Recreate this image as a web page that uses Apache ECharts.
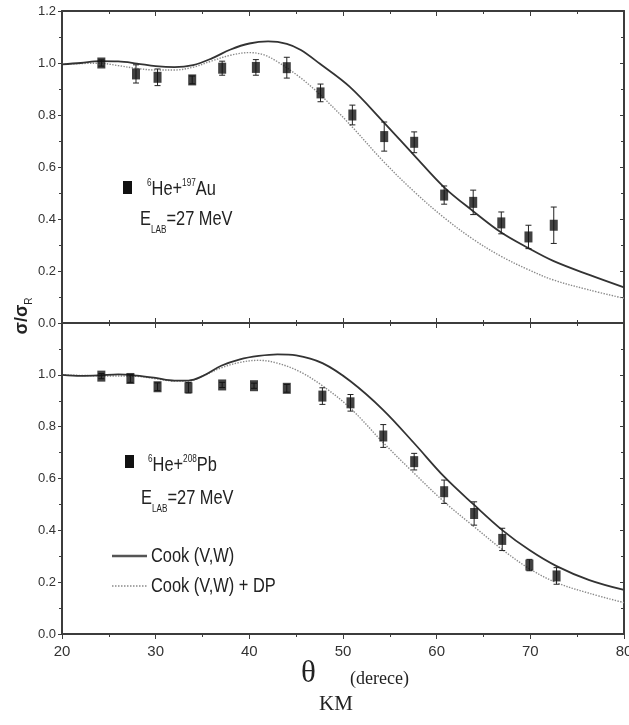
<!DOCTYPE html>
<html>
<head>
<meta charset="utf-8">
<script src="https://cdn.jsdelivr.net/npm/echarts/dist/echarts.min.js"></script>
<style>
  html, body { margin: 0; background: #fff; }
  #chart { width: 629px; height: 725px; }
</style>
</head>
<body>
<div id="chart"></div>
<script>
// measured points, 6He + 197Au (top panel)
var auX = [24.2, 27.9, 30.2, 33.9, 37.1, 40.7, 44.0, 47.6, 51.0, 54.4, 57.6, 60.8, 63.9, 66.9, 69.8, 72.5];
var auY = [1.00, 0.958, 0.945, 0.935, 0.98, 0.983, 0.982, 0.885, 0.80, 0.717, 0.695, 0.492, 0.464, 0.385, 0.331, 0.376];
var auErr = [0.012, 0.035, 0.032, 0.015, 0.027, 0.03, 0.04, 0.034, 0.038, 0.056, 0.04, 0.035, 0.047, 0.042, 0.045, 0.07];

// measured points, 6He + 208Pb (bottom panel)
var pbX = [24.2, 27.3, 30.2, 33.5, 37.1, 40.5, 44.0, 47.8, 50.8, 54.3, 57.6, 60.8, 64.0, 67.0, 69.9, 72.8];
var pbY = [0.995, 0.986, 0.954, 0.950, 0.961, 0.958, 0.948, 0.918, 0.892, 0.764, 0.665, 0.549, 0.465, 0.365, 0.266, 0.224];
var pbErr = [0.01, 0.015, 0.015, 0.02, 0.01, 0.01, 0.015, 0.032, 0.032, 0.044, 0.032, 0.045, 0.045, 0.043, 0.022, 0.032];

// calculated curves [angle, ratio]
var auCook = [[20,0.995],[22,1.0],[24,1.007],[26,1.006],[28,0.998],[30,0.988],[32,0.984],[34,0.992],[36,1.018],[38,1.052],[40,1.075],[42,1.083],[44,1.074],[45.5,1.05],[47.5,0.998],[50.7,0.909],[54.3,0.774],[57.6,0.645],[60.8,0.522],[63.9,0.43],[66.9,0.348],[69.8,0.288],[72.5,0.238],[76.3,0.185],[80,0.137]];
var auCookDP = [[20,0.995],[22,0.998],[24,0.999],[26,0.99],[28,0.979],[30,0.973],[32,0.973],[34,0.984],[36,1.008],[38,1.03],[40,1.04],[41.5,1.032],[43,1.005],[45.4,0.945],[47.5,0.88],[50.7,0.765],[54.3,0.622],[57.6,0.505],[60.8,0.405],[63.9,0.322],[66.9,0.256],[69.8,0.205],[72.5,0.165],[76.3,0.127],[80,0.095]];
var pbCook = [[20,1.0],[22,0.996],[24,0.998],[26,1.002],[28,0.997],[30,0.988],[32,0.978],[33.5,0.978],[35,0.995],[37,1.035],[39,1.06],[41,1.073],[43,1.079],[45,1.075],[47.8,1.045],[50.8,0.975],[54.3,0.864],[57.6,0.736],[60.8,0.607],[64.0,0.498],[67.0,0.401],[69.9,0.324],[72.8,0.262],[76.3,0.208],[80,0.17]];
var pbCookDP = [[20,1.0],[24,0.996],[28,0.994],[30,0.985],[32,0.976],[33.5,0.976],[35,0.995],[37,1.027],[39,1.048],[41,1.056],[43,1.045],[45.4,1.012],[47.8,0.958],[50.8,0.871],[54.3,0.738],[57.6,0.62],[60.8,0.51],[64.0,0.414],[67.0,0.326],[69.9,0.252],[72.8,0.198],[76.3,0.157],[80,0.121]];

var sans = "'Liberation Sans', Arial, sans-serif";
var axisColor = '#3c3c3c';
var textColor = '#222';

var chart = echarts.init(document.getElementById('chart'));

function xAxes(grid) {
  var base = {
    gridIndex: grid, type: 'value', min: 20, max: 80, interval: 10,
    axisLine: { show: true, onZero: false, lineStyle: { color: axisColor, width: 2 } },
    minorTick: { show: true, splitNumber: 2, length: 3, lineStyle: { color: axisColor } },
    splitLine: { show: false }
  };
  var bottom = Object.assign({}, base, {
    position: 'bottom',
    axisTick: { inside: grid === 0, length: 5, lineStyle: { color: axisColor } },
    axisLabel: { show: grid === 1, fontFamily: sans, fontSize: 15, color: '#333', margin: 10 }
  });
  var top = Object.assign({}, base, {
    position: 'top',
    axisTick: { inside: true, length: 5, lineStyle: { color: axisColor } },
    axisLabel: { show: false }
  });
  return [bottom, top];
}

function yAxes(grid) {
  var base = {
    gridIndex: grid, type: 'value', min: 0, max: 1.2, interval: 0.2,
    axisLine: { show: true, onZero: false, lineStyle: { color: axisColor, width: 2 } },
    minorTick: { show: true, splitNumber: 2, length: 3, lineStyle: { color: axisColor } },
    splitLine: { show: false }
  };
  var left = Object.assign({}, base, {
    position: 'left',
    axisTick: { inside: false, length: 4, lineStyle: { color: axisColor } },
    axisLabel: {
      fontFamily: sans, fontSize: 13, color: '#333', margin: 6,
      formatter: function (v) {
        if (grid === 1 && v > 1.1) return '';
        return v.toFixed(1);
      }
    }
  });
  var right = Object.assign({}, base, {
    position: 'right',
    axisTick: { inside: true, length: 4, lineStyle: { color: axisColor } },
    axisLabel: { show: false }
  });
  return [left, right];
}

function errorBarItem(params, api) {
  var lo = api.coord([api.value(0), api.value(1)]);
  var hi = api.coord([api.value(0), api.value(2)]);
  var w = 3;
  var st = { stroke: '#222', lineWidth: 1 };
  return {
    type: 'group',
    children: [
      { type: 'line', shape: { x1: lo[0], y1: lo[1], x2: hi[0], y2: hi[1] }, style: st },
      { type: 'line', shape: { x1: lo[0] - w, y1: lo[1], x2: lo[0] + w, y2: lo[1] }, style: st },
      { type: 'line', shape: { x1: hi[0] - w, y1: hi[1], x2: hi[0] + w, y2: hi[1] }, style: st }
    ]
  };
}

function errData(xs, ys, es) {
  return xs.map(function (x, i) { return [x, ys[i] - es[i], ys[i] + es[i]]; });
}
function pts(xs, ys) {
  return xs.map(function (x, i) { return [x, ys[i]]; });
}

var solidStyle = { color: '#333', width: 1.8, type: 'solid' };
var dotStyle = { color: '#8a8a8a', width: 1.4, type: 'dotted' };

function panelSeries(grid, cook, cookDP, xs, ys, es) {
  var xi = grid * 2, yi = grid * 2;
  return [
    { name: 'Cook (V,W)', type: 'line', xAxisIndex: xi, yAxisIndex: yi, data: cook,
      smooth: 0.35, symbol: 'none', lineStyle: solidStyle, z: 3 },
    { name: 'Cook (V,W) + DP', type: 'line', xAxisIndex: xi, yAxisIndex: yi, data: cookDP,
      smooth: 0.35, symbol: 'none', lineStyle: dotStyle, z: 2 },
    { type: 'custom', xAxisIndex: xi, yAxisIndex: yi, data: errData(xs, ys, es),
      encode: { x: 0, y: [1, 2] }, renderItem: errorBarItem, z: 4 },
    { type: 'scatter', xAxisIndex: xi, yAxisIndex: yi, data: pts(xs, ys),
      symbol: 'rect', symbolSize: [8, 11], itemStyle: { color: '#111' }, z: 5 }
  ];
}

function narrowText(x, y, text, rich) {
  return {
    type: 'text', x: x, y: y, scaleX: 0.82,
    style: { text: text, verticalAlign: 'top', rich: rich }
  };
}

var nameRich = {
  m: { fontFamily: sans, fontSize: 20, lineHeight: 22, fill: textColor },
  s: { fontFamily: sans, fontSize: 10, lineHeight: 22, verticalAlign: 'top', fill: textColor }
};
var energyRich = {
  m: { fontFamily: sans, fontSize: 20, lineHeight: 32, fill: textColor },
  b: { fontFamily: sans, fontSize: 10, lineHeight: 12, verticalAlign: 'bottom', fill: textColor }
};
var legendRich = {
  m: { fontFamily: sans, fontSize: 20, lineHeight: 22, fill: textColor }
};

var option = {
  animation: false,
  grid: [
    { left: 62, top: 11, width: 562, height: 312, containLabel: false, outerBoundsMode: 'none' },
    { left: 62, top: 323, width: 562, height: 311, containLabel: false, outerBoundsMode: 'none' }
  ],
  xAxis: xAxes(0).concat(xAxes(1)),
  yAxis: yAxes(0).concat(yAxes(1)),
  series: panelSeries(0, auCook, auCookDP, auX, auY, auErr)
    .concat(panelSeries(1, pbCook, pbCookDP, pbX, pbY, pbErr)),
  graphic: [
    // top panel data label
    { type: 'rect', shape: { x: 123, y: 181, width: 9, height: 13 }, style: { fill: '#111' } },
    narrowText(147, 178, '{s|6}{m|He+}{s|197}{m|Au}', nameRich),
    narrowText(140, 203, '{m|E}{b|LAB}{m|=27 MeV}', energyRich),
    // bottom panel data label
    { type: 'rect', shape: { x: 125, y: 455, width: 9, height: 13 }, style: { fill: '#111' } },
    narrowText(148, 454, '{s|6}{m|He+}{s|208}{m|Pb}', nameRich),
    narrowText(141, 482, '{m|E}{b|LAB}{m|=27 MeV}', energyRich),
    // curve legend
    { type: 'line', shape: { x1: 112, y1: 556, x2: 147, y2: 556 }, style: { stroke: '#555', lineWidth: 2.5 } },
    narrowText(151, 545, '{m|Cook (V,W)}', legendRich),
    { type: 'line', shape: { x1: 112, y1: 586, x2: 147, y2: 586 }, style: { stroke: '#8a8a8a', lineWidth: 1.4, lineDash: [1.5, 1.5] } },
    narrowText(151, 575, '{m|Cook (V,W) + DP}', legendRich),
    // y axis title
    { type: 'text', x: 22, y: 316, rotation: Math.PI / 2, style: {
        text: '{a|σ/σ}{b|R}', align: 'center', verticalAlign: 'middle',
        rich: {
          a: { fontFamily: sans, fontSize: 18, fontWeight: 'bold', lineHeight: 24, fill: textColor },
          b: { fontFamily: sans, fontSize: 10, lineHeight: 12, verticalAlign: 'bottom', fill: textColor }
        } } },
    // x axis title
    { type: 'text', x: 301, y: 658, style: { text: 'θ', fontFamily: 'Liberation Serif', fontSize: 31, fill: textColor } },
    { type: 'text', x: 319, y: 694, style: { text: 'KM', fontFamily: 'Liberation Serif', fontSize: 21, fill: textColor } },
    { type: 'text', x: 350, y: 670, style: { text: '(derece)', fontFamily: 'Liberation Serif', fontSize: 18, fill: textColor } }
  ]
};

chart.setOption(option);
window.addEventListener('resize', function () { chart.resize(); });
</script>
</body>
</html>
